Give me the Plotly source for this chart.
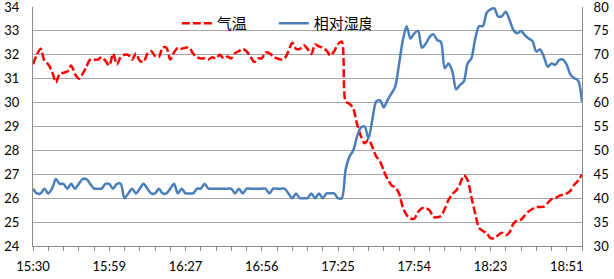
import plotly.graph_objects as go

# sample index (one sample per ~1.44 min, label every 20 samples)
time_labels = ["15:30", "15:59", "16:27", "16:56", "17:25", "17:54", "18:23", "18:51"]
label_step = 20

temperature = [
    31.6, 32.0, 32.25, 31.75, 31.6, 31.3, 30.85, 31.2, 31.25, 31.3,
    31.55, 31.2, 31.0, 31.2, 31.5, 31.8, 31.8, 31.8, 31.9, 31.75,
    31.55, 32.05, 31.6, 31.9, 32.0, 32.0, 31.8, 32.05, 31.75, 31.7,
    32.05, 32.15, 31.95, 31.9, 32.3, 32.3, 31.8, 32.1, 32.3, 32.25,
    32.3, 32.3, 32.05, 31.9, 31.85, 31.85, 31.8, 31.9, 31.85, 32.0,
    31.85, 31.93, 31.85, 32.07, 32.15, 32.25, 32.15, 31.93, 31.7, 31.85,
    31.85, 32.1, 32.07, 31.93, 31.85, 31.8, 31.85, 32.15, 32.5, 32.25,
    32.25, 32.4, 32.25, 32.03, 32.43, 32.35, 32.3, 32.17, 31.97, 32.15,
    32.45, 32.55, 30.05, 29.95, 29.75, 29.1, 28.6, 28.3, 28.45, 28.15,
    27.75, 27.55, 27.15, 26.8, 26.55, 26.45, 26.2, 25.62, 25.3, 25.15,
    25.14, 25.42, 25.58, 25.58, 25.5, 25.22, 25.2, 25.26, 25.55, 25.93,
    26.18, 26.32, 26.6, 26.95, 26.75, 26.04, 25.35, 24.76, 24.63, 24.54,
    24.33, 24.33, 24.45, 24.55, 24.45, 24.58, 24.93, 25.07, 25.1, 25.28,
    25.45, 25.55, 25.63, 25.63, 25.65, 25.8, 25.96, 26.0, 26.1, 26.15,
    26.2, 26.32, 26.57, 26.74, 27.0,
]

humidity = [
    42, 41, 41, 42, 41, 42, 44, 43, 43, 42,
    43, 42, 43, 44, 44, 43, 42, 42, 42, 43,
    43, 42, 43, 43, 40, 41, 42, 41, 42, 43,
    42, 41, 41, 42, 41, 41, 42, 43, 41, 42,
    41, 41, 41, 42, 42, 43, 42, 42, 42, 42,
    42, 42, 42, 41, 42, 41, 42, 42, 42, 42,
    42, 42, 41, 42, 42, 42, 42, 41, 40, 41,
    40, 40, 40, 41, 40, 41, 40, 41, 41, 41,
    40, 40, 46, 48.7, 50, 52.9, 54.8, 55, 52.5, 56.4,
    60.2, 60.5, 59, 60.5, 61.9, 63.3, 68, 73, 76, 73.4,
    74.5, 75, 71.5, 72.3, 73.7, 74.3, 73.1, 72.7, 67.2, 68.2,
    66.5, 62.8, 63.7, 64.4, 68.2, 69.3, 73.4, 76, 76, 78.8,
    79.5, 79.7, 78, 78.1, 79, 77.3, 75.2, 74.5, 75, 74.1,
    73.4, 72.9, 70.7, 71.1, 69.6, 67.5, 68.2, 67.9, 68.9, 69,
    67.9, 65.8, 65.1, 64.6, 60.2,
]

idx = list(range(len(temperature)))
tickvals = [k * label_step for k in range(len(time_labels))]

font_fam = "Lato, 'Open Sans', sans-serif"
grid_col = "#a6a6a6"
axis_col = "#8c8c8c"

fig = go.Figure()
fig.add_trace(go.Scatter(
    x=idx, y=temperature, name="气温", mode="lines",
    line=dict(color="#ff0000", width=2.5, dash="8px,3px", shape="spline", smoothing=0.8),
    yaxis="y",
))
fig.add_trace(go.Scatter(
    x=idx, y=humidity, name="相对湿度", mode="lines",
    line=dict(color="#4a7ebb", width=2.5, shape="spline", smoothing=0.8),
    yaxis="y2",
))

fig.update_layout(
    width=614, height=279,
    margin=dict(l=33, r=32, t=7, b=33, autoexpand=False),
    paper_bgcolor="white", plot_bgcolor="white",
    font=dict(family=font_fam, size=13, color="#000"),
    showlegend=True,
    legend=dict(
        orientation="h", x=0.262, y=1.0, xanchor="left", yanchor="top",
        bgcolor="rgba(0,0,0,0)",
        font=dict(family="'Noto Sans CJK SC', sans-serif", size=15, color="#000"),
        itemwidth=30, tracegroupgap=0, entrywidth=52, entrywidthmode="pixels",
    ),
    xaxis=dict(
        range=[0, len(temperature) - 1], automargin=False, ticklabeloverflow="allow",
        tickmode="array", tickvals=tickvals, ticktext=time_labels,
        ticks="outside", ticklen=4, tickcolor=axis_col, tickwidth=1,
        minor=dict(dtick=4, tick0=0, ticks="outside", ticklen=4, tickcolor=axis_col, showgrid=False),
        showgrid=False, zeroline=False,
        showline=True, linecolor=axis_col, linewidth=1,
        ticklabelstandoff=4,
    ),
    yaxis=dict(
        range=[24, 34.0005], dtick=1, tick0=24, automargin=False, ticklabeloverflow="allow",
        showgrid=True, gridcolor=grid_col, gridwidth=1,
        zeroline=False, showline=True, linecolor=axis_col, linewidth=1,
        ticks="", ticklabelstandoff=10,
    ),
    yaxis2=dict(
        range=[30, 80.0025], dtick=5, tick0=30, automargin=False, ticklabeloverflow="allow",
        overlaying="y", side="right",
        showgrid=False, zeroline=False,
        showline=True, linecolor=axis_col, linewidth=1,
        ticks="", ticklabelstandoff=8,
    ),
)

fig.write_html(
    "out.html",
    config={"displayModeBar": False},
    post_script="document.body.style.margin='0';document.body.style.overflow='hidden';",
)
